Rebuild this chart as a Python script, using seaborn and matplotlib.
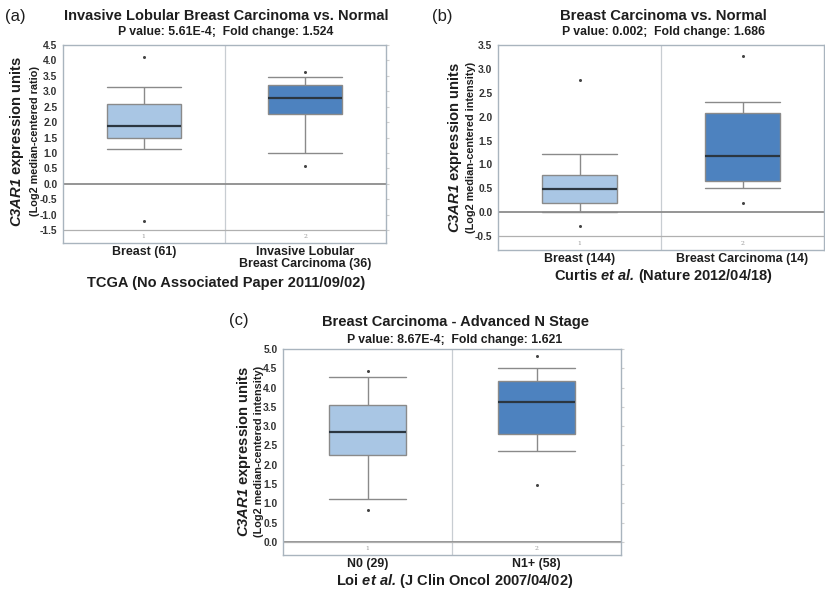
import matplotlib
matplotlib.use("Agg")
import matplotlib.pyplot as plt
import seaborn as sns
import pandas as pd

sns.set_style("white")
plt.rcParams['font.family'] = ['Liberation Sans', 'DejaVu Sans']
plt.rcParams['mathtext.fontset'] = 'custom'
plt.rcParams['mathtext.rm'] = 'Liberation Sans'
plt.rcParams['mathtext.it'] = 'Liberation Sans:italic'
plt.rcParams['mathtext.bf'] = 'Liberation Sans:bold'
plt.rcParams['mathtext.bfit'] = 'Liberation Sans:italic:bold'

# ---------------- data ----------------
# Panel (a)
a_groups = ["Breast (61)", "Invasive Lobular\nBreast Carcinoma (36)"]
a_wlo = [1.13, 1.00]
a_q1 = [1.47, 2.25]
a_med = [1.88, 2.79]
a_q3 = [2.58, 3.19]
a_whi = [3.13, 3.46]
a_min = [-1.20, 0.59]
a_max = [4.10, 3.62]
a_ticks = [4.5, 4.0, 3.5, 3.0, 2.5, 2.0, 1.5, 1.0, 0.5, 0.0, -0.5, -1.0, -1.5]

# Panel (b)
b_groups = ["Breast (144)", "Breast Carcinoma (14)"]
b_wlo = [0.01, 0.50]
b_q1 = [0.19, 0.65]
b_med = [0.48, 1.17]
b_q3 = [0.78, 2.07]
b_whi = [1.22, 2.31]
b_min = [-0.28, 0.20]
b_max = [2.76, 3.27]
b_ticks = [3.5, 3.0, 2.5, 2.0, 1.5, 1.0, 0.5, 0.0, -0.5]

# Panel (c)
c_groups = ["N0 (29)", "N1+ (58)"]
c_wlo = [1.12, 2.36]
c_q1 = [2.25, 2.79]
c_med = [2.84, 3.62]
c_q3 = [3.54, 4.16]
c_whi = [4.28, 4.52]
c_min = [0.83, 1.47]
c_max = [4.42, 4.83]
c_ticks = [5.0, 4.5, 4.0, 3.5, 3.0, 2.5, 2.0, 1.5, 1.0, 0.5, 0.0]

LIGHT = "#a9c6e4"
DARK = "#4d82bf"
EDGE = "#8a8a8a"
TXT = "#1e1e1e"

W, H = 825, 591
fig = plt.figure(figsize=(W / 100, H / 100), dpi=100)


def px(x, y):
    return x / W, 1 - y / H


def ax_rect(l, t, r, b):
    return [l / W, 1 - b / H, (r - l) / W, (b - t) / H]


def panel(rect, groups, wlo, q1, med, q3, whi, mn, mx, ticks, ylim):
    ax = fig.add_axes(rect)
    rows = []
    for i, g in enumerate(groups):
        for v in (wlo[i], q1[i], med[i], q3[i], whi[i]):
            rows.append({"group": g, "value": v})
    df = pd.DataFrame(rows)
    sns.boxplot(data=df, x="group", y="value", hue="group", order=groups,
                hue_order=groups, palette=[LIGHT, DARK], saturation=1,
                whis=(0, 100), width=0.46, showfliers=False, linecolor=EDGE,
                linewidth=1.0, medianprops=dict(color="#2b3640", linewidth=1.6),
                capwidths=0.46, legend=False, ax=ax, zorder=3)
    pts = pd.DataFrame({"group": list(groups) + list(groups),
                        "value": list(mn) + list(mx)})
    sns.stripplot(data=pts, x="group", y="value", order=groups, jitter=False,
                  color="#444444", size=2.2, ax=ax, zorder=4)
    ax.set_xlim(-0.5, 1.5)
    ax.set_ylim(*ylim)
    ax.axhline(0, color="#8c8c8c", lw=1.3, zorder=2)
    ax.axhline(ticks[-1], color="#b0b0b0", lw=0.9, zorder=2)
    ax.axvline(0.5, color="#c8cdd2", lw=0.9, zorder=1)
    ax.set_yticks(ticks)
    ax.set_yticklabels([f"{t:.1f}" for t in ticks], fontsize=7.4,
                       fontweight="bold", color="#333333")
    ax.set_xticks([0, 1])
    ax.set_xticklabels(groups, fontsize=8.9, fontweight="bold",
                       color=TXT, linespacing=1.05)
    ax.tick_params(axis="x", length=0, pad=2)
    ax.tick_params(axis="y", length=0, pad=2)
    ax.tick_params(axis="y", which="both", right=True, length=2,
                   color="#d0d0d0", labelright=False)
    ax.set_xlabel("")
    ax.set_ylabel("")
    for s in ax.spines.values():
        s.set_color("#a9b4be")
        s.set_linewidth(1.0)
    ybot = ticks[-1] + (ylim[0] - ticks[-1]) / 2
    for i, lab in enumerate(["1", "2"]):
        ax.text(i, ybot, lab, ha="center", va="center", fontsize=4.5,
                color="#999999", fontfamily="DejaVu Serif")
    return ax


def ylabels(x1, x2, y, second):
    fig.text(*px(x1, y), r"$\mathbfit{C3AR1}$ expression units", rotation=90,
             fontsize=10.6, fontweight="bold", ha="center", va="center", color=TXT)
    fig.text(*px(x2, y), second, rotation=90,
             fontsize=7.8, fontweight="bold", ha="center", va="center", color=TXT)


# ---- Panel (a)
panel(ax_rect(63, 45, 386, 243), a_groups, a_wlo, a_q1, a_med, a_q3, a_whi,
      a_min, a_max, a_ticks, (-1.92, 4.5))
fig.text(*px(5, 17), "(a)", fontsize=12, va="center", ha="left", color=TXT)
fig.text(*px(226, 16), "Invasive Lobular Breast Carcinoma vs. Normal",
         fontsize=10.5, fontweight="bold", ha="center", va="center", color=TXT)
fig.text(*px(226, 32), "P value: 5.61E-4;  Fold change: 1.524",
         fontsize=8.8, fontweight="bold", ha="center", va="center", color=TXT)
ylabels(17, 35, 141, "(Log2 median-centered ratio)")
fig.text(*px(226, 283), "TCGA (No Associated Paper 2011/09/02)",
         fontsize=10.5, fontweight="bold", ha="center", va="center", color=TXT)

# ---- Panel (b)
panel(ax_rect(498, 45, 824, 250), b_groups, b_wlo, b_q1, b_med, b_q3, b_whi,
      b_min, b_max, b_ticks, (-0.79, 3.5))
fig.text(*px(432, 17), "(b)", fontsize=12, va="center", ha="left", color=TXT)
fig.text(*px(663, 16), "Breast Carcinoma vs. Normal",
         fontsize=10.7, fontweight="bold", ha="center", va="center", color=TXT)
fig.text(*px(663, 32), "P value: 0.002;  Fold change: 1.686",
         fontsize=8.8, fontweight="bold", ha="center", va="center", color=TXT)
ylabels(455, 471, 147, "(Log2 median-centered intensity)")
fig.text(*px(663, 276), r"Curtis $\mathbfit{et\ al.}\,$(Nature 2012/04/18)",
         fontsize=10.5, fontweight="bold", ha="center", va="center", color=TXT)

# ---- Panel (c)
panel(ax_rect(283, 349, 621, 555), c_groups, c_wlo, c_q1, c_med, c_q3, c_whi,
      c_min, c_max, c_ticks, (-0.34, 5.0))
fig.text(*px(229, 321), "(c)", fontsize=12, va="center", ha="left", color=TXT)
fig.text(*px(455, 322), "Breast Carcinoma - Advanced N Stage",
         fontsize=10.5, fontweight="bold", ha="center", va="center", color=TXT)
fig.text(*px(455, 340), "P value: 8.67E-4;  Fold change: 1.621",
         fontsize=8.8, fontweight="bold", ha="center", va="center", color=TXT)
ylabels(244, 259, 451, "(Log2 median-centered intensity)")
fig.text(*px(455, 581), r"Loi $\mathbfit{et\ al.}\,$(J Clin Oncol 2007/04/02)",
         fontsize=10.5, fontweight="bold", ha="center", va="center", color=TXT)

fig.savefig("out.png", dpi=100)
